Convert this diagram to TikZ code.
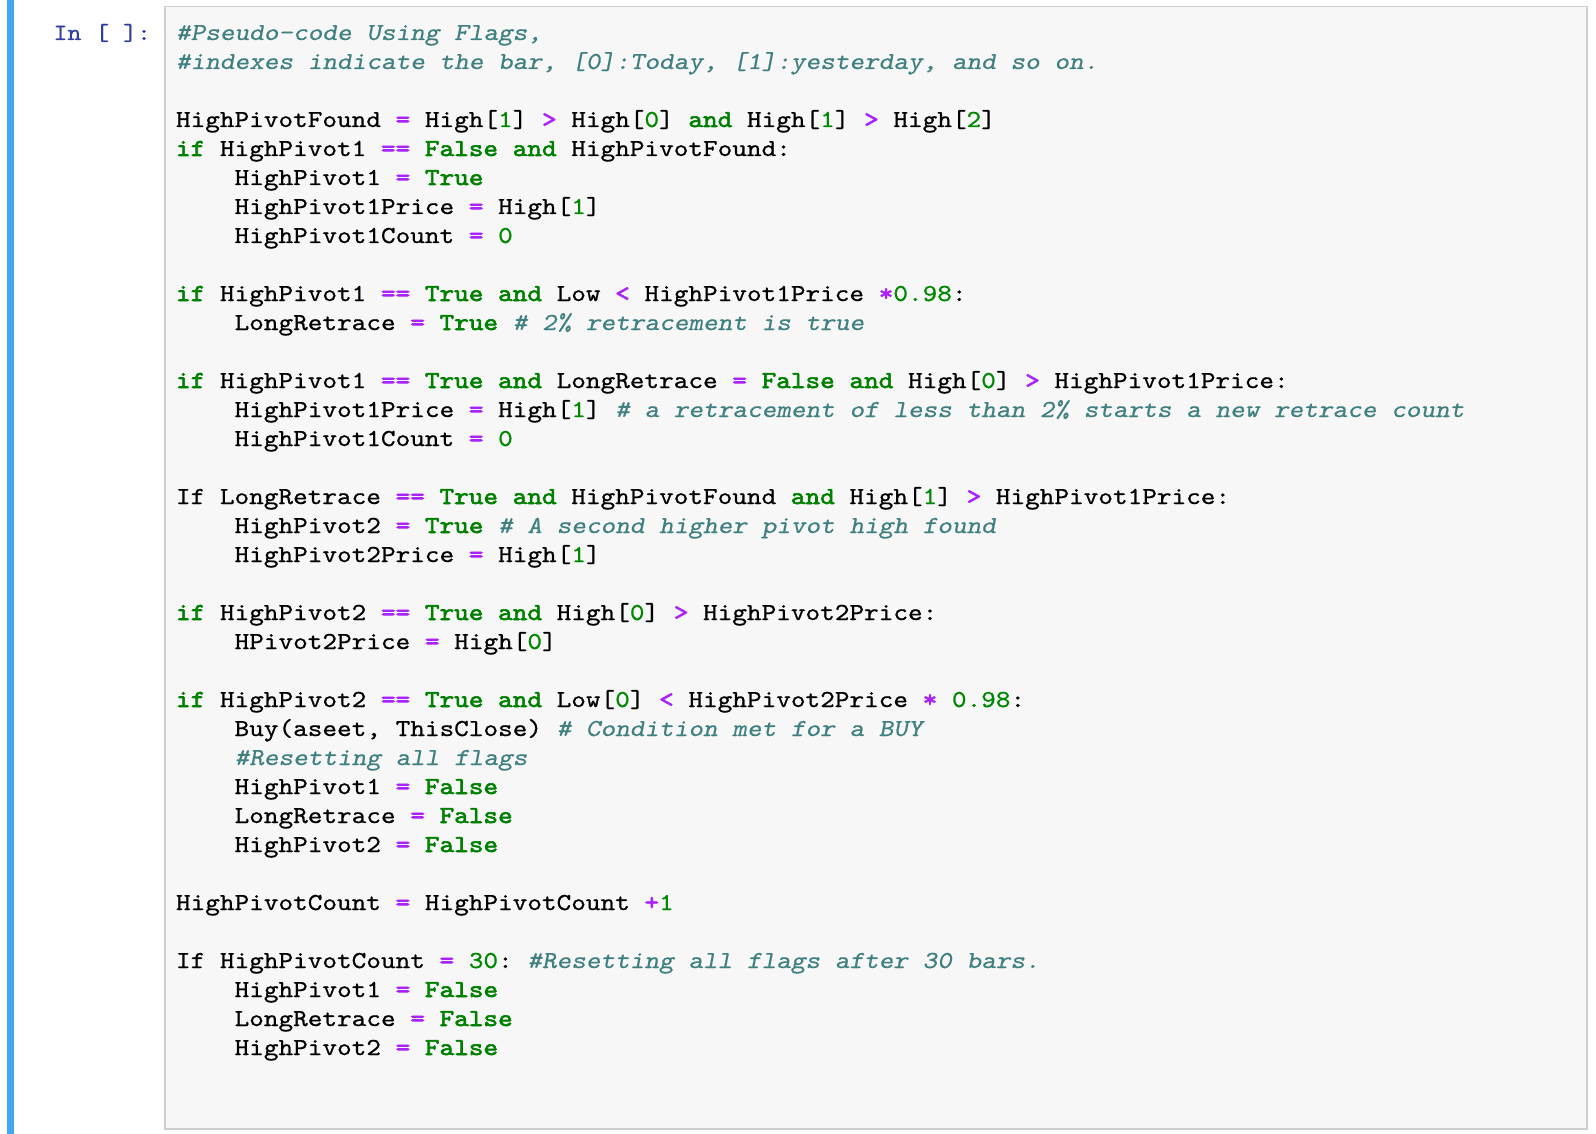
\documentclass[tikz,border=0pt]{standalone}
\usepackage{fontspec}
\newfontfamily\codefont{lmmono10-regular.otf}[
  FakeStretch=1.1429,
  UprightFeatures={FakeBold=0.7},
  BoldFont=lmmono10-regular.otf, BoldFeatures={FakeBold=2.4},
  ItalicFont=lmmonoslant10-regular.otf, ItalicFeatures={FakeBold=0.5}]
\definecolor{kwgreen}{HTML}{008000}
\definecolor{numgreen}{HTML}{008800}
\definecolor{oppurple}{HTML}{AA22FF}
\definecolor{cmteal}{HTML}{408080}
\definecolor{promptblue}{HTML}{303F9F}
\definecolor{cellbg}{HTML}{F7F7F7}
\definecolor{cellborder}{HTML}{CFCFCF}
\definecolor{selbar}{HTML}{42A5F5}
\newcommand{\kw}[1]{\textcolor{kwgreen}{\bfseries #1}}
\newcommand{\op}[1]{\textcolor{oppurple}{\bfseries #1}}
\newcommand{\nm}[1]{\textcolor{numgreen}{#1}}
\newcommand{\cm}[1]{\textcolor{cmteal}{\itshape #1}}
\frenchspacing
\tikzset{
  codeline/.style={anchor=base west, inner sep=0pt, outer sep=0pt,
    font=\codefont\fontsize{24.4}{29}\selectfont\frenchspacing, text=black},
  promptline/.style={anchor=base east, inner sep=0pt, outer sep=0pt,
    font=\codefont\fontsize{23.2}{29}\selectfont\frenchspacing, text=promptblue},
  cellbox/.style={fill=cellbg, draw=cellborder, line width=1.6pt},
  barstyle/.style={fill=selbar, draw=none}
}
\begin{document}
\begin{tikzpicture}[x=1pt,y=-1pt]
\useasboundingbox (0,0) rectangle (1596,1134);
\fill[white] (0,0) rectangle (1596,1134);
\path[barstyle] (7,0) rectangle (14,1134);
\path[cellbox] (165,6.5) rectangle (1587,1129);
\node[promptline] (prompt) at (151,40) {In [ ]:};
% baseline of line k: 40 + (k-1)*29 ; indent 234.6
\node[codeline] (l1) at (176,40) {\cm{\#Pseudo-code Using Flags,}};
\node[codeline] (l2) at (176,69) {\cm{\#indexes indicate the bar, [0]:Today, [1]:yesterday, and so on.}};
\node[codeline] (l4) at (176,127) {HighPivotFound \op{=} High[\nm{1}] \op{>} High[\nm{0}] \kw{and} High[\nm{1}] \op{>} High[\nm{2}]};
\node[codeline] (l5) at (176,156) {\kw{if} HighPivot1 \op{==} \kw{False} \kw{and} HighPivotFound:};
\node[codeline] (l6) at (234.6,185) {HighPivot1 \op{=} \kw{True}};
\node[codeline] (l7) at (234.6,214) {HighPivot1Price \op{=} High[\nm{1}]};
\node[codeline] (l8) at (234.6,243) {HighPivot1Count \op{=} \nm{0}};
\node[codeline] (l10) at (176,301) {\kw{if} HighPivot1 \op{==} \kw{True} \kw{and} Low \op{<} HighPivot1Price \op{*}\nm{0.98}:};
\node[codeline] (l11) at (234.6,330) {LongRetrace \op{=} \kw{True} \cm{\# 2\% retracement is true}};
\node[codeline] (l13) at (176,388) {\kw{if} HighPivot1 \op{==} \kw{True} \kw{and} LongRetrace \op{=} \kw{False} \kw{and} High[\nm{0}] \op{>} HighPivot1Price:};
\node[codeline] (l14) at (234.6,417) {HighPivot1Price \op{=} High[\nm{1}] \cm{\# a retracement of less than 2\% starts a new retrace count}};
\node[codeline] (l15) at (234.6,446) {HighPivot1Count \op{=} \nm{0}};
\node[codeline] (l17) at (176,504) {If LongRetrace \op{==} \kw{True} \kw{and} HighPivotFound \kw{and} High[\nm{1}] \op{>} HighPivot1Price:};
\node[codeline] (l18) at (234.6,533) {HighPivot2 \op{=} \kw{True} \cm{\# A second higher pivot high found}};
\node[codeline] (l19) at (234.6,562) {HighPivot2Price \op{=} High[\nm{1}]};
\node[codeline] (l21) at (176,620) {\kw{if} HighPivot2 \op{==} \kw{True} \kw{and} High[\nm{0}] \op{>} HighPivot2Price:};
\node[codeline] (l22) at (234.6,649) {HPivot2Price \op{=} High[\nm{0}]};
\node[codeline] (l24) at (176,707) {\kw{if} HighPivot2 \op{==} \kw{True} \kw{and} Low[\nm{0}] \op{<} HighPivot2Price \op{*} \nm{0.98}:};
\node[codeline] (l25) at (234.6,736) {Buy(aseet, ThisClose) \cm{\# Condition met for a BUY}};
\node[codeline] (l26) at (234.6,765) {\cm{\#Resetting all flags}};
\node[codeline] (l27) at (234.6,794) {HighPivot1 \op{=} \kw{False}};
\node[codeline] (l28) at (234.6,823) {LongRetrace \op{=} \kw{False}};
\node[codeline] (l29) at (234.6,852) {HighPivot2 \op{=} \kw{False}};
\node[codeline] (l31) at (176,910) {HighPivotCount \op{=} HighPivotCount \op{+}\nm{1}};
\node[codeline] (l33) at (176,968) {If HighPivotCount \op{=} \nm{30}: \cm{\#Resetting all flags after 30 bars.}};
\node[codeline] (l34) at (234.6,997) {HighPivot1 \op{=} \kw{False}};
\node[codeline] (l35) at (234.6,1026) {LongRetrace \op{=} \kw{False}};
\node[codeline] (l36) at (234.6,1055) {HighPivot2 \op{=} \kw{False}};
\end{tikzpicture}
\end{document}
